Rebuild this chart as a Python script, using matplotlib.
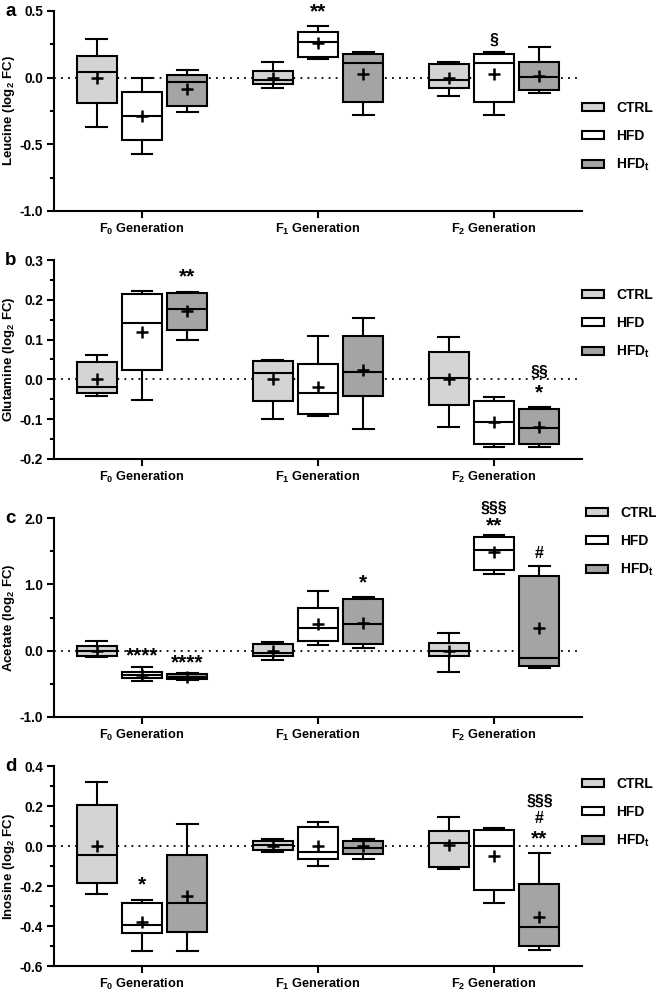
import matplotlib
matplotlib.use('Agg')
import matplotlib.pyplot as plt
from matplotlib.patches import Patch
from matplotlib.ticker import MultipleLocator
import numpy as np

plt.rcParams['font.family'] = ['Liberation Sans', 'DejaVu Sans']
plt.rcParams['font.weight'] = 'bold'
plt.rcParams['mathtext.fontset'] = 'custom'
plt.rcParams['mathtext.rm'] = 'Liberation Sans:bold'
plt.rcParams['mathtext.it'] = 'Liberation Sans:bold'
plt.rcParams['mathtext.bf'] = 'Liberation Sans:bold'

# ---------------- data ----------------
generations = ['F$_0$ Generation', 'F$_1$ Generation', 'F$_2$ Generation']
groups = ['CTRL', 'HFD', 'HFD$_\\mathrm{t}$']
colors = ['#d4d4d4', '#ffffff', '#a4a4a4']
stat_keys = ['whislo', 'q1', 'med', 'q3', 'whishi', 'mean']

# each entry: [generation][group] -> (whislo, q1, med, q3, whishi, mean)
leucine = [
    [(-0.37, -0.19, 0.045, 0.16, 0.29, 0.0), (-0.57, -0.47, -0.29, -0.11, 0.0, -0.29), (-0.255, -0.21, -0.03, 0.02, 0.055, -0.085)],
    [(-0.078, -0.048, -0.018, 0.05, 0.115, 0.0), (0.14, 0.155, 0.27, 0.34, 0.39, 0.26), (-0.28, -0.185, 0.11, 0.175, 0.195, 0.03)],
    [(-0.135, -0.075, -0.018, 0.105, 0.115, 0.0), (-0.28, -0.185, 0.11, 0.175, 0.195, 0.03), (-0.118, -0.095, 0.008, 0.12, 0.23, 0.01)],
]
glutamine = [
    [(-0.042, -0.034, -0.018, 0.043, 0.061, 0.0), (-0.051, 0.023, 0.141, 0.214, 0.222, 0.118), (0.099, 0.124, 0.176, 0.216, 0.219, 0.172)],
    [(-0.099, -0.055, 0.017, 0.046, 0.05, 0.0), (-0.091, -0.087, -0.035, 0.039, 0.11, -0.02), (-0.125, -0.042, 0.018, 0.109, 0.155, 0.023)],
    [(-0.12, -0.064, 0.003, 0.068, 0.107, 0.0), (-0.171, -0.162, -0.108, -0.054, -0.044, -0.108), (-0.171, -0.162, -0.123, -0.074, -0.07, -0.119)],
]
acetate = [
    [(-0.09, -0.075, 0.0, 0.075, 0.15, 0.0), (-0.45, -0.405, -0.37, -0.32, -0.24, -0.37), (-0.44, -0.42, -0.39, -0.355, -0.335, -0.40)],
    [(-0.14, -0.075, -0.03, 0.095, 0.13, 0.0), (0.08, 0.15, 0.34, 0.64, 0.895, 0.40), (0.04, 0.095, 0.40, 0.786, 0.81, 0.42)],
    [(-0.315, -0.08, -0.01, 0.115, 0.26, 0.0), (1.16, 1.21, 1.52, 1.71, 1.74, 1.49), (-0.265, -0.225, -0.105, 1.12, 1.27, 0.345)],
]
inosine = [
    [(-0.24, -0.184, -0.043, 0.205, 0.319, 0.0), (-0.524, -0.437, -0.397, -0.287, -0.272, -0.379), (-0.524, -0.432, -0.284, -0.043, 0.112, -0.249)],
    [(-0.03, -0.02, 0.003, 0.023, 0.037, 0.0), (-0.099, -0.063, -0.032, 0.097, 0.12, 0.0), (-0.067, -0.04, -0.012, 0.025, 0.035, 0.0)],
    [(-0.115, -0.107, 0.017, 0.075, 0.144, 0.003), (-0.287, -0.222, 0.0, 0.08, 0.092, -0.048), (-0.521, -0.50, -0.404, -0.189, -0.037, -0.357)],
]

# annotations: (generation, group, y, text)
ann_leucine = [(1, 1, 0.49, '**'), (2, 1, 0.28, '§')]
ann_glutamine = [(0, 2, 0.258, '**'), (2, 2, 0.018, '§§'), (2, 2, -0.033, '*')]
ann_acetate = [(0, 1, -0.08, '****'), (0, 2, -0.18, '****'), (1, 2, 1.02, '*'), (2, 1, 1.88, '**'), (2, 1, 2.15, '§§§'), (2, 2, 1.46, '#')]
ann_inosine = [(0, 1, -0.195, '*'), (2, 2, 0.035, '**'), (2, 2, 0.139, '#'), (2, 2, 0.222, '§§§')]

panels = [
    dict(letter='a', name='Leucine', data=leucine, ann=ann_leucine, ylim=(-1.0, 0.5), major=0.5, minor=0.25, fmt='{:.1f}', rect=(11, 211), leg_y=0.37, leg_x=1.0),
    dict(letter='b', name='Glutamine', data=glutamine, ann=ann_glutamine, ylim=(-0.2, 0.3), major=0.1, minor=0.05, fmt='{:.1f}', rect=(260, 459), leg_y=0.678, leg_x=1.0),
    dict(letter='c', name='Acetate', data=acetate, ann=ann_acetate, ylim=(-1.0, 2.0), major=1.0, minor=0.5, fmt='{:.1f}', rect=(518, 717), leg_y=0.878, leg_x=1.008),
    dict(letter='d', name='Inosine', data=inosine, ann=ann_inosine, ylim=(-0.6, 0.4), major=0.2, minor=0.1, fmt='{:.1f}', rect=(766, 966), leg_y=0.765, leg_x=1.0),
]

W, H = 656, 992
fig = plt.figure(figsize=(W / 100, H / 100), dpi=100)

offsets = [-0.258, 0.0, 0.258]
bw = 0.227
FS = 9.2
LW = 1.5

def ann_size(txt):
    return 15 if '*' in txt else 11.5

for p in panels:
    top, bot = p['rect']
    left, right = 54, 582
    ax = fig.add_axes([left / W, 1 - bot / H, (right - left) / W, (bot - top) / H])
    for gi in range(3):
        stats = []
        positions = []
        for ki in range(3):
            vals = p['data'][ki][gi]
            d = dict(zip(stat_keys, vals))
            d['fliers'] = []
            stats.append(d)
            positions.append(ki + offsets[gi])
        ax.bxp(stats, positions=positions, widths=bw, patch_artist=True,
               showmeans=True, showfliers=False, capwidths=bw * 0.52,
               boxprops=dict(facecolor=colors[gi], edgecolor='black', linewidth=LW),
               whiskerprops=dict(color='black', linewidth=LW),
               capprops=dict(color='black', linewidth=LW),
               medianprops=dict(color='black', linewidth=LW),
               meanprops=dict(marker='+', markeredgecolor='black', markersize=8, markeredgewidth=1.8),
               zorder=3)
    ax.axhline(0, color='black', lw=1.3, dashes=(1, 2.9), zorder=1)
    ax.set_xlim(-0.5, 2.5)
    ax.set_ylim(*p['ylim'])
    ax.set_xticks([0, 1, 2])
    ax.set_xticklabels(generations, fontsize=FS, fontweight='bold')
    ax.yaxis.set_minor_locator(MultipleLocator(p['minor']))
    ticks = np.arange(p['ylim'][0], p['ylim'][1] + 1e-9, p['major'])
    ax.set_yticks(ticks)
    ax.set_yticklabels([p['fmt'].format(t if abs(t) > 1e-9 else 0.0) for t in ticks], fontsize=FS + 0.6, fontweight='bold')
    ax.set_ylabel(p['name'] + ' (log$_2$ FC)', fontsize=FS + 0.3, fontweight='bold')
    ax.yaxis.set_label_coords(-0.071, 0.5)
    for s in ['top', 'right']:
        ax.spines[s].set_visible(False)
    for s in ['left', 'bottom']:
        ax.spines[s].set_linewidth(LW)
    ax.tick_params(axis='both', which='major', length=5, width=LW, pad=3)
    ax.tick_params(axis='y', which='minor', length=3, width=LW)
    ax.tick_params(axis='x', which='minor', length=0)
    for gen, grp, y, txt in p['ann']:
        ax.text(gen + offsets[grp], y, txt, ha='center', va='center', fontsize=ann_size(txt), fontweight='bold')
    handles = [Patch(facecolor=c, edgecolor='black', linewidth=LW) for c in colors]
    ax.legend(handles, groups, loc='center left', bbox_to_anchor=(p['leg_x'], p['leg_y']),
              frameon=False, borderaxespad=0, borderpad=0,
              handlelength=1.6, handleheight=0.5, handletextpad=0.85, labelspacing=1.0,
              prop=dict(weight='bold', size=FS + 0.8))
    fig.text(5 / W, 1 - (top - 8) / H, p['letter'], fontsize=13.5, fontweight='bold', va='top', ha='left')

fig.savefig('out.png', dpi=100)
